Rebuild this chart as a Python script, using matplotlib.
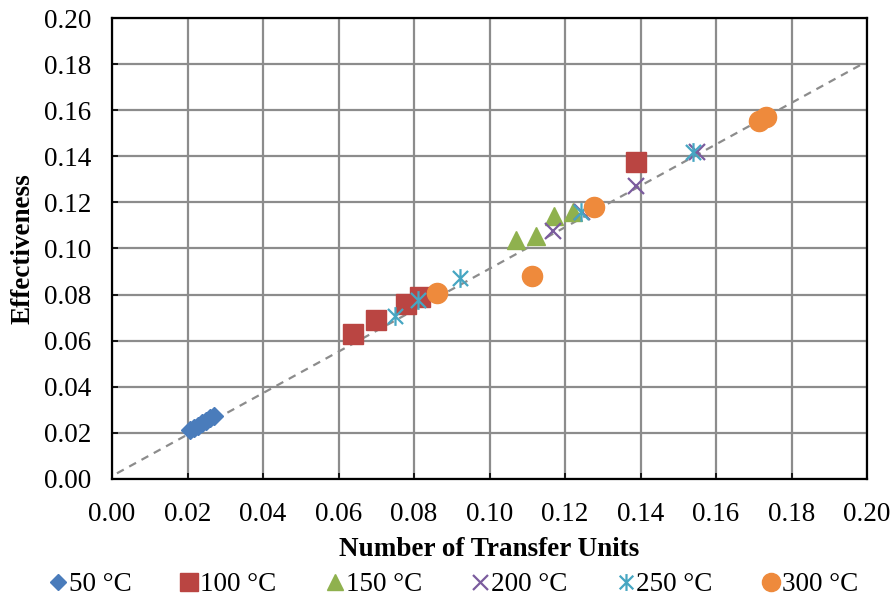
import matplotlib
matplotlib.use("Agg")
import matplotlib.pyplot as plt
from matplotlib.path import Path

plt.rcParams['font.family'] = ['Liberation Serif', 'DejaVu Serif']

# NTU / effectiveness pairs per inlet temperature
ntu_50 = [0.0207, 0.0217, 0.0228, 0.0238, 0.0249, 0.0259, 0.0270]
eff_50 = [0.0210, 0.0220, 0.0231, 0.0241, 0.0252, 0.0262, 0.0273]

ntu_100 = [0.0638, 0.0700, 0.0778, 0.0816, 0.1388]
eff_100 = [0.0630, 0.0690, 0.0758, 0.0788, 0.1375]

ntu_150 = [0.1070, 0.1123, 0.1170, 0.1221]
eff_150 = [0.1035, 0.1055, 0.1140, 0.1158]

ntu_200 = [0.1168, 0.1246, 0.1388, 0.1550]
eff_200 = [0.1075, 0.1160, 0.1272, 0.1420]

ntu_250 = [0.0750, 0.0810, 0.0923, 0.1243, 0.1538]
eff_250 = [0.0705, 0.0775, 0.0872, 0.1158, 0.1420]

ntu_300 = [0.0860, 0.1113, 0.1278, 0.1713, 0.1733]
eff_300 = [0.0805, 0.0880, 0.1180, 0.1555, 0.1572]

# linear trend line: effectiveness = slope * NTU + intercept
trend_slope = 0.9
trend_intercept = 0.0012
trend_x = [0.0013, 0.1990]

labels = ['50 °C', '100 °C', '150 °C', '200 °C', '250 °C', '300 °C']
xticks = [0.00, 0.02, 0.04, 0.06, 0.08, 0.10, 0.12, 0.14, 0.16, 0.18, 0.20]
yticks = [0.00, 0.02, 0.04, 0.06, 0.08, 0.10, 0.12, 0.14, 0.16, 0.18, 0.20]

# asterisk marker: an x with a vertical bar through it
star_path = Path(
    [(-0.5, -0.5), (0.5, 0.5), (-0.5, 0.5), (0.5, -0.5), (0, -0.62), (0, 0.62)],
    [Path.MOVETO, Path.LINETO, Path.MOVETO, Path.LINETO, Path.MOVETO, Path.LINETO],
)

FS = 19.5

fig = plt.figure(figsize=(8.92, 6.03), dpi=100)
ax = fig.add_axes([0.1256, 0.206, 0.8464, 0.764])

ax.plot(trend_x, [trend_slope * v + trend_intercept for v in trend_x],
        linestyle=(0, (3.5, 2.8)), color='#8c8c8c', lw=1.6, zorder=3)

series = [
    (ntu_50, eff_50, dict(marker='D', ms=9.5, color='#4A7CBB', mec='#4A7CBB')),
    (ntu_100, eff_100, dict(marker='s', ms=14, color='#BA4542', mec='#BA4542')),
    (ntu_150, eff_150, dict(marker='^', ms=13.5, color='#8FB14E', mec='#8FB14E')),
    (ntu_200, eff_200, dict(marker='x', ms=12, color='#7B5C9E', mew=1.6)),
    (ntu_250, eff_250, dict(marker=star_path, ms=13.5, color='#46A6C2', mfc='none', mew=1.6)),
    (ntu_300, eff_300, dict(marker='o', ms=14.5, color='#EE8A3C', mec='#EE8A3C')),
]
handles = []
for (xs, ys, style), lab in zip(series, labels):
    h, = ax.plot(xs, ys, linestyle='none', label=lab, zorder=4, **style)
    handles.append(h)

ax.set_xlim(0, 0.20)
ax.set_ylim(0, 0.20)
ax.set_xticks(xticks)
ax.set_yticks(yticks)
ax.set_xticklabels([f'{v:.2f}' for v in xticks])
ax.set_yticklabels([f'{v:.2f}' for v in yticks])
ax.tick_params(axis='both', direction='in', length=4, width=1.2, labelsize=FS,
               colors='black')
ax.tick_params(axis='x', pad=17)
ax.tick_params(axis='y', pad=15)
ax.grid(True, color='#8c8c8c', lw=1.6, zorder=0)
ax.set_axisbelow(True)
for sp in ax.spines.values():
    sp.set_color('black')
    sp.set_linewidth(1.6)

ax.set_xlabel('Number of Transfer Units', fontsize=FS, fontweight='bold', labelpad=7)
ax.set_ylabel('Effectiveness', fontsize=FS, fontweight='bold', labelpad=6)

fig.legend(handles=handles, labels=labels, loc='center', ncol=6,
           bbox_to_anchor=(0.508, 0.03), frameon=False, fontsize=FS,
           handlelength=0.7, handletextpad=0.05, columnspacing=1.8,
           markerscale=0.9, borderpad=0.1)

fig.savefig('out.png', dpi=100)
